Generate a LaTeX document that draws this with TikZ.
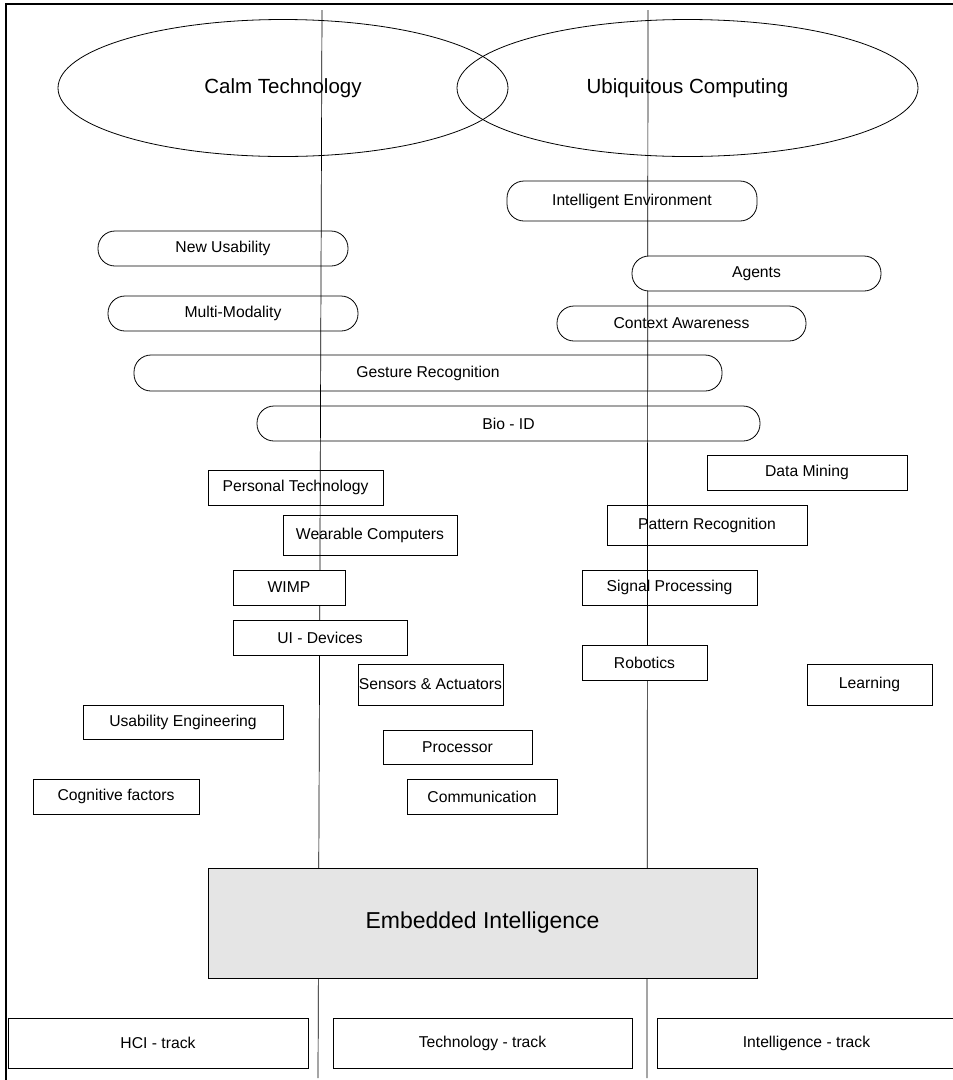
\documentclass[tikz,border=0pt]{standalone}
\usepackage{fontspec}
\setmainfont{Liberation Sans}
\usetikzlibrary{shapes.geometric}
\tikzset{
  lbl/.style={font=\fontsize{15.7}{18}\selectfont},
  box/.style={draw, line width=0.8pt, rectangle, inner sep=0pt, lbl},
  coverbox/.style={box, fill=white},
  pill/.style={box, rounded corners=17pt},
  coverpill/.style={pill, fill=white},
  bubble/.style={draw, line width=0.8pt, ellipse, inner sep=0pt,
    font=\fontsize{20.5}{24}\selectfont},
  track/.style={draw, line width=0.7pt},
}
\begin{document}
\begin{tikzpicture}[x=1pt, y=-1pt]
\useasboundingbox (0,0) rectangle (953,1080);
% frame (top and left edge)
\draw[line width=2.5pt] (6,1080) -- (6,4) -- (953,4);

% the two big concept ellipses
\node[bubble, minimum width=450pt, minimum height=137pt] (calm) at (283,88) {Calm Technology};
\node[bubble, minimum width=461pt, minimum height=137pt] (ubi) at (687.5,88) {Ubiquitous Computing};

% track lines
\coordinate (hcitop) at (322,10);
\coordinate (hcibot) at (318,1078);
\coordinate (inttop) at (648,10);
\coordinate (intbot) at (647,1078);
\draw[track] (hcitop) -- (hcibot);
\draw[track] (inttop) -- (intbot);

% rounded topics
\node[pill, minimum width=250pt, minimum height=40pt] (ienv) at (632,201) {Intelligent Environment};
\node[coverpill, minimum width=249pt, minimum height=35pt] (agents) at (756.5,273.5) {Agents};
\node[pill, minimum width=249pt, minimum height=35pt] (ctx) at (681.5,323.5) {Context Awareness};
\node[pill, minimum width=250pt, minimum height=35pt] (newus) at (223,248.5) {New Usability};
\node[pill, minimum width=250pt, minimum height=35pt] (multi) at (233,313.5) {Multi-Modality};
\node[pill, minimum width=588pt, minimum height=36pt] (gesture) at (428,373) {Gesture Recognition};
\node[pill, minimum width=503pt, minimum height=35pt] (bio) at (508.5,423.5) {Bio - ID};

% rectangular topics
\node[box, minimum width=175pt, minimum height=35pt] (personal) at (295.5,487.5) {Personal Technology};
\node[box, minimum width=174pt, minimum height=40pt] (wearable) at (370,535) {Wearable Computers};
\node[coverbox, minimum width=112pt, minimum height=35pt] (wimp) at (289,587.5) {WIMP};
\node[coverbox, minimum width=174pt, minimum height=35pt] (uidev) at (320,637.5) {UI - Devices};
\node[box, minimum width=145pt, minimum height=41pt] (sensors) at (430.5,684.5) {Sensors \& Actuators};
\node[box, minimum width=200pt, minimum height=34pt] (usab) at (183,722) {Usability Engineering};
\node[box, minimum width=149pt, minimum height=34pt] (proc) at (457.5,747) {Processor};
\node[box, minimum width=166pt, minimum height=35pt] (cogn) at (116,796.5) {Cognitive factors};
\node[box, minimum width=150pt, minimum height=35pt] (comm) at (482,796.5) {Communication};
\node[box, minimum width=200pt, minimum height=35pt] (dmine) at (807,472.5) {Data Mining};
\node[box, minimum width=200pt, minimum height=40pt] (pattern) at (707,525) {Pattern Recognition};
\node[box, minimum width=175pt, minimum height=35pt] (signal) at (669.5,587.5) {Signal Processing};
\node[coverbox, minimum width=125pt, minimum height=35pt] (robot) at (644.5,662.5) {Robotics};
\node[box, minimum width=125pt, minimum height=41pt] (learn) at (869.5,684.5) {Learning};

% base
\node[box, fill=black!10, minimum width=549pt, minimum height=110pt,
  font=\fontsize{23}{27}\selectfont] (embedded) at (482.5,923) {Embedded Intelligence};

% tracks
\node[box, minimum width=300pt, minimum height=50pt] (hci) at (158,1043) {HCI - track};
\node[box, minimum width=299pt, minimum height=50pt] (tech) at (482.5,1043) {Technology - track};
\node[box, minimum width=299pt, minimum height=50pt] (intel) at (806.5,1043) {Intelligence - track};
\end{tikzpicture}
\end{document}
